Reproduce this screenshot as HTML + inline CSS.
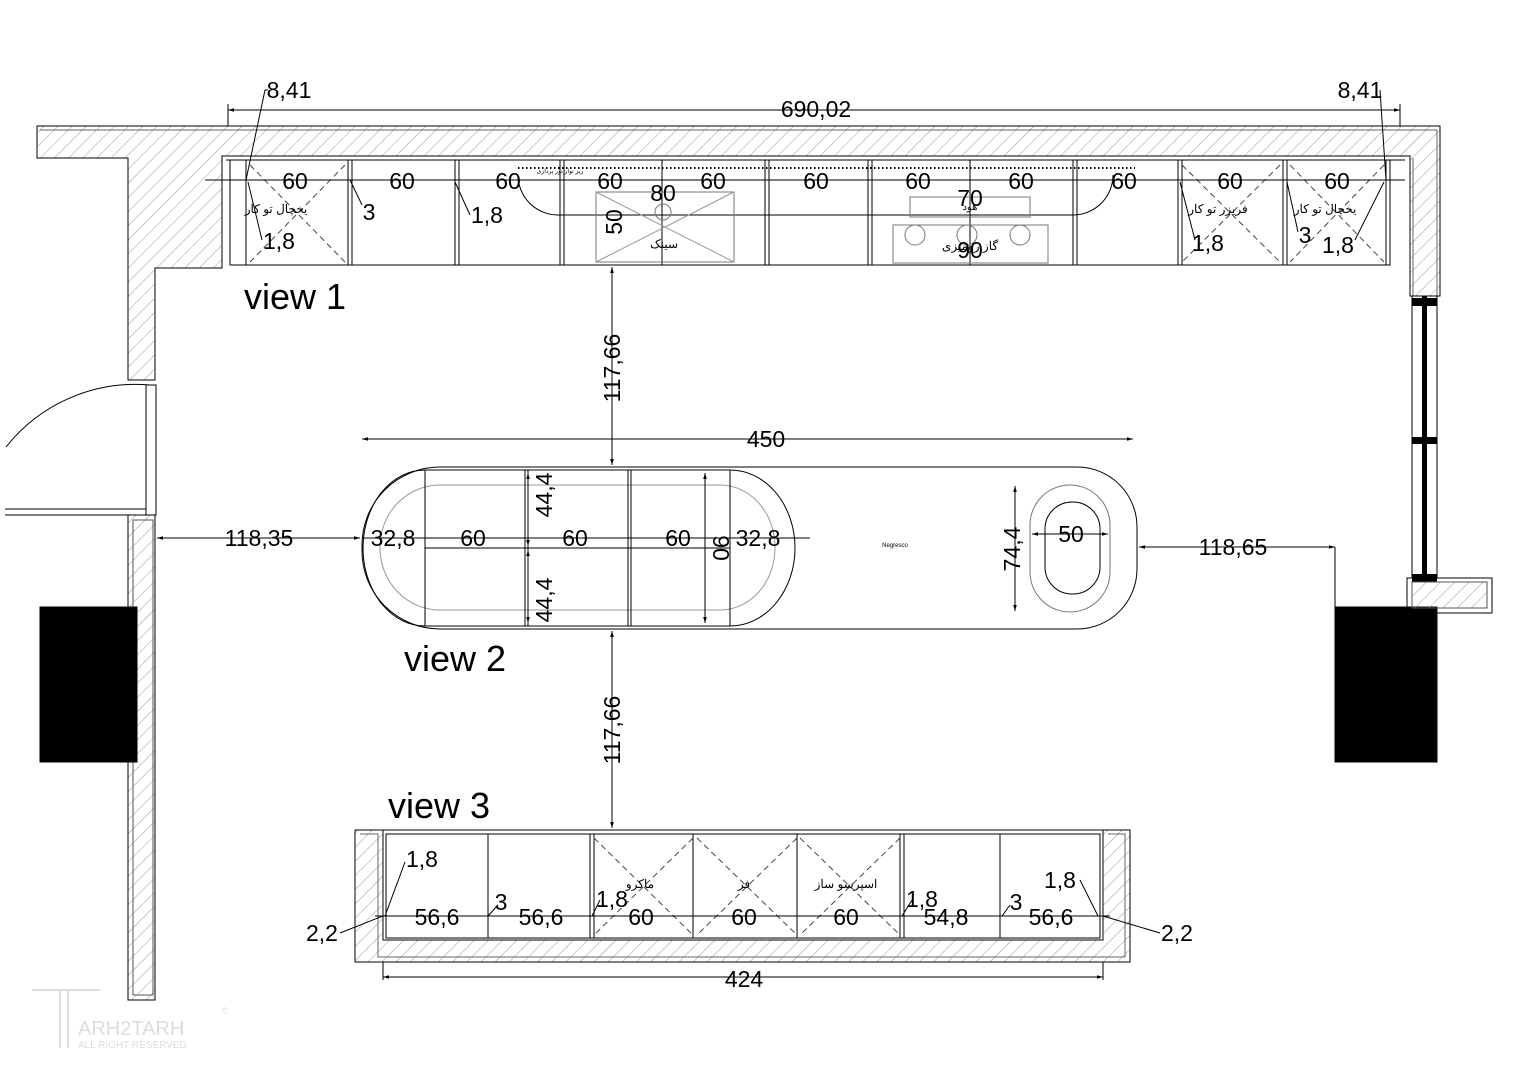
<!DOCTYPE html>
<html><head><meta charset="utf-8"><style>
html,body{margin:0;padding:0;background:#fff}
svg{display:block}
text{font-family:"Liberation Sans",Arial,sans-serif;fill:#000}
.ar{font-family:"Liberation Sans","DejaVu Sans",sans-serif}
</style></head><body>
<svg width="1528" height="1080" viewBox="0 0 1528 1080" xmlns="http://www.w3.org/2000/svg">
<defs>
<pattern id="h" width="10" height="10" patternUnits="userSpaceOnUse" patternTransform="rotate(45)">
<line x1="0" y1="0" x2="0" y2="10" stroke="#999" stroke-width="1"/></pattern>
<marker id="a" viewBox="0 0 10 10" refX="10" refY="5" markerWidth="8" markerHeight="6" orient="auto-start-reverse"><path d="M0,2 L10,5 L0,8z" fill="#000"/></marker>
</defs>
<g fill="none" stroke="#000" stroke-width="1">
<path d="M37,126 L1440,126 L1440,296 L1410,296 L1410,156 L222,156 L222,268 L155,268 L155,380 L128,380 L128,158 L37,158 Z" fill="url(#h)"/>
<path d="M40,130 L1437,130 M1437,130 L1437,296 M1413,158 L1413,296" stroke="#666"/>
<path d="M226,160 L1405,160"/>
<rect x="128" y="515" width="27" height="485" fill="url(#h)"/>
<rect x="133" y="520" width="20" height="475" stroke="#555"/>
<rect x="146" y="385" width="10" height="130"/>
<path d="M150,385 A165,165 0 0 0 6,447"/>
<path d="M5,509 L146,509 M5,515 L146,515"/>
<rect x="40" y="607" width="97" height="155" fill="#000"/>
<rect x="1335" y="607" width="102" height="155" fill="#000"/>
<rect x="1412" y="296" width="25" height="282"/>
<rect x="1422" y="296" width="5" height="282" fill="#000" stroke="none"/>
<rect x="1412" y="298" width="25" height="8" fill="#000" stroke="none"/>
<rect x="1412" y="437" width="25" height="7" fill="#000" stroke="none"/>
<rect x="1412" y="574" width="25" height="8" fill="#000" stroke="none"/>
<rect x="1407" y="578" width="85" height="35"/>
<rect x="1412" y="582" width="75" height="26" fill="url(#h)" stroke="#555"/>
<rect x="230" y="160" width="1160" height="105"/>
<path d="M246,160V265 M348,160V265 M352,160V265 M455,160V265 M459,160V265 M560,160V265 M564,160V265 M662,160V265 M765,160V265 M769,160V265 M868,160V265 M872,160V265 M970,160V265 M1073,160V265 M1077,160V265 M1178,160V265 M1182,160V265 M1283,160V265 M1287,160V265 M1386,160V265"/>
<path d="M250,165 L345,262 M345,165 L250,262 M1182,165 L1280,262 M1280,165 L1182,262 M1290,165 L1384,262 M1384,165 L1290,262" stroke="#444" stroke-dasharray="6,4"/>
<path d="M518,168 L1135,168" stroke="#000" stroke-dasharray="1.5,2.5" stroke-width="2"/>
<path d="M518,175 A40,40 0 0 0 558,215 L1073,215 A40,40 0 0 0 1113,175"/>
<rect x="596" y="192" width="138" height="70" stroke="#777"/>
<path d="M596,192 L734,262 M734,192 L596,262" stroke="#999"/>
<circle cx="663" cy="212" r="8" stroke="#777"/>
<rect x="910" y="197" width="120" height="20" stroke="#777"/>
<rect x="893" y="225" width="155" height="38" stroke="#777"/>
<circle cx="915" cy="235" r="10" stroke="#777"/><circle cx="967" cy="235" r="10" stroke="#777"/><circle cx="1020" cy="235" r="10" stroke="#777"/>
<path d="M440,467 L1077,467 A60,60 0 0 1 1137,527 L1137,569 A60,60 0 0 1 1077,629 L440,629 A78,78 0 0 1 362,551 L362,545 A78,78 0 0 1 440,467 Z"/>
<path d="M425,470 L730,470 A65,78 0 0 1 795,548 A65,78 0 0 1 730,626 L425,626 A62,78 0 0 1 363,548 A62,78 0 0 1 425,470Z"/>
<path d="M440,485 L720,485 A55,62 0 0 1 775,547 A55,62 0 0 1 720,610 L440,610 A60,62 0 0 1 380,547 A60,62 0 0 1 440,485Z" stroke="#999"/>
<path d="M425,470V626 M525,470V626 M528,470V626 M628,470V626 M631,470V626 M730,470V626 M425,548H730" />
<rect x="1030" y="485" width="80" height="127" rx="40" stroke="#777"/>
<rect x="1045" y="502" width="55" height="92" rx="27"/>
<rect x="355" y="830" width="775" height="132"/>
<path d="M355,830 L355,962 L1130,962 L1130,830 L1103,830 L1103,940 L383,940 L383,830Z" fill="url(#h)"/>
<path d="M360,834 L378,834 L378,957 L1125,957 L1125,834 L1108,834" stroke="#666"/>
<rect x="386" y="834" width="714" height="104"/>
<path d="M488,834V938 M590,834V938 M594,834V938 M693,834V938 M797,834V938 M900,834V938 M904,834V938 M1000,834V938"/>
<path d="M594,838 L693,935 M693,838 L594,935 M697,838 L797,935 M797,838 L697,935 M800,838 L900,935 M900,838 L800,935" stroke="#444" stroke-dasharray="6,4"/>
<g marker-start="url(#a)" marker-end="url(#a)">
<line x1="228" y1="110" x2="1400" y2="110"/>
<line x1="362" y1="439" x2="1133" y2="439"/>
<line x1="612" y1="267" x2="612" y2="465"/>
<line x1="612" y1="631" x2="612" y2="828"/>
<line x1="157" y1="538" x2="360" y2="538"/>
<line x1="1139" y1="547" x2="1335" y2="547"/>
<line x1="383" y1="977" x2="1103" y2="977"/>
<line x1="1015" y1="486" x2="1015" y2="611"/>
<line x1="1032" y1="534" x2="1108" y2="534"/>
<line x1="705" y1="473" x2="705" y2="623"/>
<line x1="528" y1="473" x2="528" y2="546"/>
<line x1="528" y1="550" x2="528" y2="623"/>
</g>
<line x1="228" y1="104" x2="228" y2="126"/><line x1="1400" y1="104" x2="1400" y2="126"/>
<line x1="1335" y1="547" x2="1335" y2="607"/>
<line x1="383" y1="962" x2="383" y2="980"/><line x1="1103" y1="962" x2="1103" y2="980"/>
<line x1="205" y1="180" x2="1405" y2="180"/>
<line x1="362" y1="538" x2="810" y2="538"/>
<line x1="375" y1="916" x2="1110" y2="916"/>
<path d="M246,180 L265,90 L268,90 M1386,180 L1380,90 M350,180 L362,205 M455,182 L470,215 M248,182 L262,240 M1180,182 L1195,240 M1287,182 L1298,232 M1384,182 L1355,240 M385,916 L405,862 M488,916 L498,905 M592,916 L600,900 M902,916 L912,900 M1002,916 L1010,905 M1098,916 L1080,880 M383,916 L340,933 M1103,916 L1160,933"/>
</g>
<g font-size="23" text-anchor="middle">
<text x="816" y="117">690,02</text>
<text x="289" y="98">8,41</text>
<text x="1360" y="98">8,41</text>
<text x="295" y="189" >60</text><text x="402" y="189">60</text><text x="508" y="189">60</text><text x="610" y="189">60</text><text x="713" y="189">60</text><text x="816" y="189">60</text><text x="918" y="189">60</text><text x="1021" y="189">60</text><text x="1124" y="189">60</text><text x="1230" y="189">60</text><text x="1337" y="189">60</text>
<text x="663" y="201">80</text><text x="970" y="206">70</text><text x="970" y="258">90</text>
<text x="622" y="222" transform="rotate(-90 622 222)">50</text>
<text x="369" y="220">3</text><text x="487" y="223">1,8</text><text x="279" y="249">1,8</text>
<text x="1208" y="251">1,8</text><text x="1305" y="243">3</text><text x="1338" y="253">1,8</text>
<text x="766" y="447">450</text>
<text x="620" y="368" transform="rotate(-90 620 368)">117,66</text>
<text x="620" y="730" transform="rotate(-90 620 730)">117,66</text>
<text x="259" y="546">118,35</text>
<text x="1233" y="555">118,65</text>
<text x="393" y="546">32,8</text><text x="473" y="546">60</text><text x="575" y="546">60</text><text x="678" y="546">60</text><text x="758" y="546">32,8</text>
<text x="552" y="495" transform="rotate(-90 552 495)">44,4</text>
<text x="552" y="600" transform="rotate(-90 552 600)">44,4</text>
<text x="713" y="548" transform="rotate(90 713 548)">90</text>
<text x="1020" y="549" transform="rotate(-90 1020 549)">74,4</text>
<text x="1071" y="542">50</text>
<text x="422" y="867">1,8</text>
<text x="437" y="925">56,6</text><text x="541" y="925">56,6</text>
<text x="501" y="910">3</text><text x="612" y="907">1,8</text>
<text x="641" y="925">60</text><text x="744" y="925">60</text><text x="846" y="925">60</text>
<text x="922" y="907">1,8</text><text x="946" y="925">54,8</text><text x="1016" y="910">3</text><text x="1051" y="925">56,6</text>
<text x="1060" y="888">1,8</text>
<text x="322" y="941">2,2</text><text x="1177" y="941">2,2</text>
<text x="744" y="987">424</text>
</g>
<g font-size="36">
<text x="244" y="309">view 1</text>
<text x="404" y="671">view 2</text>
<text x="388" y="818">view 3</text>
</g>
<g class="ar" font-size="12" text-anchor="middle" fill="#333">
<text x="276" y="213">یخچال تو کار</text>
<text x="1218" y="213">فریزر تو کار</text>
<text x="1325" y="213">یخچال تو کار</text>
<text x="664" y="248" fill="#777">سینک</text>
<text x="970" y="210" font-size="10">هود</text>
<text x="970" y="250">گاز رومیزی</text>
<text x="640" y="888">ماکرو</text>
<text x="744" y="888">فر</text>
<text x="846" y="888">اسپرسو ساز</text>
<text x="560" y="173" font-size="6">زیر نوار نور پردازی</text>
</g>
<text x="895" y="547" font-size="6" text-anchor="middle">Negresco</text>
<g fill="none" stroke="#ddd" stroke-width="2">
<path d="M32,990 L100,990 M60,990 L60,1048 M68,990 L68,1048"/>
</g>
<text x="78" y="1035" font-size="20" style="fill:#ddd">ARH2TARH</text>
<text x="78" y="1048" font-size="10" style="fill:#ddd">ALL RIGHT RESERVED</text>
<text x="222" y="1014" font-size="9" style="fill:#ddd">©</text>
</svg>
</body></html>
